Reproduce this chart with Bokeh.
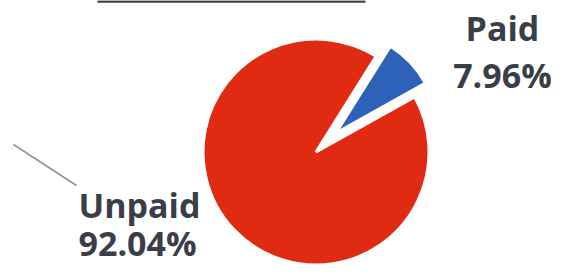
import math
from bokeh.plotting import figure
from bokeh.models import Range1d
from bokeh.core.properties import value
from bokeh.embed import file_html
from bokeh.resources import INLINE

# ---- data ----
categories = ["Paid", "Unpaid"]
shares = [7.96, 92.04]
colors = ["#2d62b8", "#e02a12"]

# ---- layout (pixel frame: x right, y up = 280 - image_y) ----
W, H = 551, 264
p = figure(width=W, height=H, output_backend="svg", toolbar_location=None,
           x_range=Range1d(0, W), y_range=Range1d(280 - H, 280),
           min_border=0, outline_line_color=None)
p.axis.visible = False
p.grid.visible = False
p.background_fill_color = "white"
p.border_fill_color = "white"

cx, cy = 315.5, 280 - 151.5
r_main = 113
r_expl = 103
explode = 27
rotation = 29.2  # degrees, start of first slice (math angle)

total = sum(shares)
start = rotation
angles = []
for s in shares:
    span = s / total * 360.0
    angles.append((start, start + span))
    start += span

# Paid slice (exploded)
a0, a1 = angles[0]
mid = math.radians((a0 + a1) / 2)
ex = cx + explode * math.cos(mid)
ey = cy + explode * math.sin(mid)
p.wedge(x=[ex], y=[ey], radius=r_expl, start_angle=[math.radians(a0)],
        end_angle=[math.radians(a1)], fill_color=colors[0],
        line_color="white", line_width=3)

# Unpaid slice
b0, b1 = angles[1]
p.wedge(x=[cx], y=[cy], radius=r_main, start_angle=[math.radians(b0)],
        end_angle=[math.radians(b1)], fill_color=colors[1],
        line_color="white", line_width=3)

# remnant of underline at top edge
p.line(x=[97, 365], y=[279, 279], line_color="#3a3e48", line_width=2.5)

# leader line for Unpaid
p.line(x=[13, 76], y=[280 - 144, 280 - 185], line_color="#8e929c", line_width=1.5)

txt_color = "#3a3e48"
font = value("Open Sans")
# Paid label
p.text(x=[502, 502], y=[280 - 27, 280 - 74],
       text=[categories[0], f"{shares[0]:.2f}%"],
       text_font=font, text_font_size="34px", text_font_style="bold",
       text_color=txt_color, text_align="center", text_baseline="middle")
# Unpaid label
p.text(x=[78, 78], y=[280 - 204, 280 - 242],
       text=[categories[1], f"{shares[1]:.2f}%"],
       text_font=font, text_font_size="34px", text_font_style="bold",
       text_color=txt_color, text_align="left", text_baseline="middle")

open("out.html", "w").write(file_html(p, INLINE))
